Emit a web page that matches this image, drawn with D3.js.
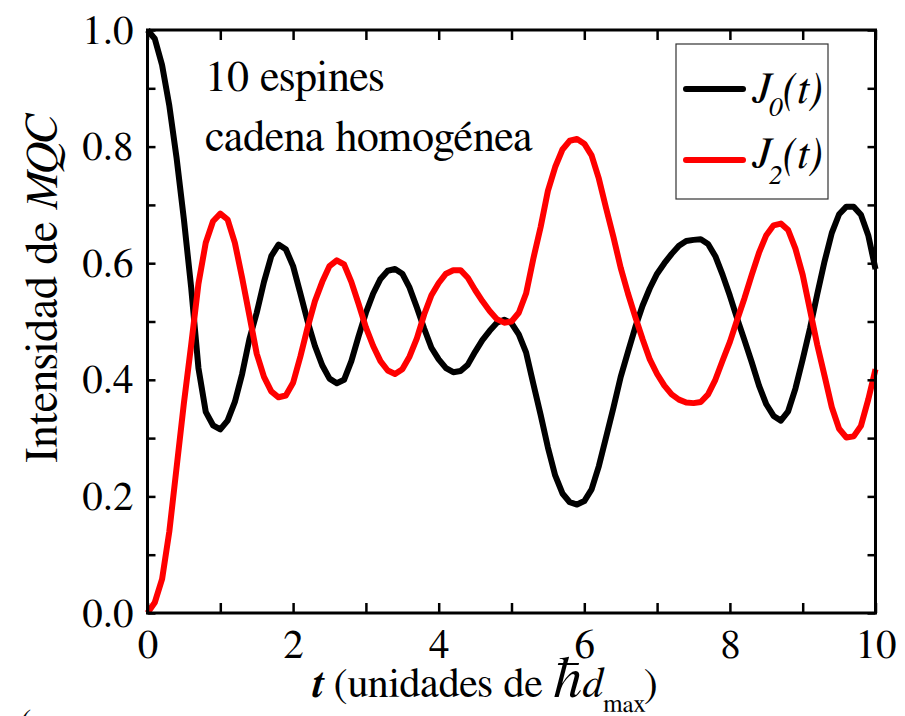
<!DOCTYPE html>
<html>
<head>
<meta charset="utf-8">
<script src="https://cdn.jsdelivr.net/npm/d3@7"></script>
<style>
  html, body { margin: 0; padding: 0; background: #fff; font-family: "Nimbus Roman", "FreeSerif", "Liberation Serif", "Tinos", serif; }
  svg { display: block; }
</style>
</head>
<body>
<svg id="chart" width="905" height="716"></svg>
<script>
// Time axis, sampled every 0.1
const time = d3.range(0, 101).map(i => +(i / 10).toFixed(1));

// MQC intensity, order 0
const j0Values = [
  1.000, 0.985, 0.940, 0.870, 0.780, 0.675, 0.558, 0.420, 0.345, 0.322,
  0.315, 0.330, 0.362, 0.410, 0.470, 0.515, 0.568, 0.612, 0.632, 0.624,
  0.595, 0.548, 0.500, 0.458, 0.425, 0.402, 0.394, 0.400, 0.432, 0.475,
  0.515, 0.548, 0.573, 0.587, 0.590, 0.582, 0.558, 0.524, 0.488, 0.455,
  0.435, 0.420, 0.413, 0.415, 0.426, 0.448, 0.468, 0.484, 0.498, 0.503,
  0.497, 0.478, 0.447, 0.393, 0.340, 0.284, 0.236, 0.205, 0.190, 0.186,
  0.192, 0.212, 0.252, 0.302, 0.352, 0.405, 0.448, 0.490, 0.527, 0.557,
  0.582, 0.600, 0.616, 0.630, 0.638, 0.640, 0.641, 0.633, 0.612, 0.580,
  0.544, 0.505, 0.468, 0.430, 0.390, 0.358, 0.338, 0.330, 0.346, 0.385,
  0.435, 0.488, 0.547, 0.603, 0.652, 0.684, 0.697, 0.697, 0.683, 0.648,
  0.590
];

// MQC intensity, order 2
const j2Values = [
  0.000, 0.018, 0.058, 0.140, 0.250, 0.360, 0.460, 0.565, 0.635, 0.672,
  0.685, 0.675, 0.635, 0.575, 0.510, 0.445, 0.405, 0.380, 0.370, 0.373,
  0.395, 0.440, 0.490, 0.535, 0.568, 0.595, 0.605, 0.598, 0.568, 0.530,
  0.490, 0.458, 0.432, 0.416, 0.410, 0.418, 0.440, 0.471, 0.512, 0.545,
  0.566, 0.582, 0.588, 0.588, 0.575, 0.554, 0.535, 0.518, 0.504, 0.498,
  0.500, 0.515, 0.548, 0.608, 0.662, 0.724, 0.765, 0.795, 0.810, 0.813,
  0.805, 0.785, 0.745, 0.694, 0.645, 0.592, 0.548, 0.508, 0.470, 0.435,
  0.410, 0.390, 0.375, 0.366, 0.361, 0.360, 0.362, 0.375, 0.400, 0.433,
  0.465, 0.503, 0.540, 0.580, 0.618, 0.648, 0.665, 0.668, 0.657, 0.625,
  0.580, 0.520, 0.460, 0.407, 0.353, 0.316, 0.301, 0.303, 0.321, 0.366,
  0.418
];

const xTickValues = [0, 2, 4, 6, 8, 10];
const xMinorTicks = [1, 3, 5, 7, 9];
const yTickValues = [0.0, 0.2, 0.4, 0.6, 0.8, 1.0];
const yMinorTicks = [0.1, 0.3, 0.5, 0.7, 0.9];

const seriesColors = ["#000000", "#ff0000"];
const FONT_CSS = '"Nimbus Roman", "FreeSerif", "Liberation Serif", "Tinos", serif';

const svg = d3.select("#chart");
const plot = { left: 147.5, right: 875.5, top: 30, bottom: 613 };

const x = d3.scaleLinear().domain([0, 10]).range([plot.left, plot.right]);
const y = d3.scaleLinear().domain([0, 1]).range([plot.bottom, plot.top]);

// Every label shares the same serif face
function label(parent, px) {
  return parent.append("text")
    .style("font-family", FONT_CSS)
    .style("font-size", px + "px")
    .attr("fill", "#000");
}

// Curves
const series = [j0Values, j2Values];
const line = d3.line()
  .x((d, i) => x(time[i]))
  .y(d => y(d))
  .curve(d3.curveLinear);

const curves = svg.append("g");
series.forEach((vals, k) => {
  curves.append("path")
    .datum(vals)
    .attr("d", line)
    .attr("fill", "none")
    .attr("stroke", seriesColors[k])
    .attr("stroke-width", 6)
    .attr("stroke-linejoin", "round");
});

// Axes with inward ticks on all four sides
const fmt = d3.format(".1f");
const bottomAxis = d3.axisBottom(x).tickValues(xTickValues).tickSize(-10).tickPadding(16).tickFormat(d3.format("d"));
const bottomMinor = d3.axisBottom(x).tickValues(xMinorTicks).tickSize(-10).tickFormat("");
const topAxis = d3.axisTop(x).tickValues(xTickValues.concat(xMinorTicks)).tickSize(-10).tickFormat("");
const leftAxis = d3.axisLeft(y).tickValues(yTickValues).tickSize(-8).tickPadding(14).tickFormat(fmt);
const leftMinor = d3.axisLeft(y).tickValues(yMinorTicks).tickSize(-8).tickFormat("");
const rightAxis = d3.axisRight(y).tickValues(yTickValues.concat(yMinorTicks)).tickSize(-8).tickFormat("");

function styleAxis(g) {
  g.attr("font-family", null).attr("font-size", null);
  g.select(".domain").remove();
  g.selectAll(".tick line").attr("stroke", "#000").attr("stroke-width", 2.5);
  g.selectAll(".tick text")
    .style("font-family", FONT_CSS)
    .style("font-size", "41px")
    .attr("fill", "#000");
}

svg.append("g").attr("transform", `translate(0,${plot.bottom})`).call(bottomAxis).call(styleAxis)
  .selectAll(".tick text").attr("dy", "0.71em");
svg.append("g").attr("transform", `translate(0,${plot.bottom})`).call(bottomMinor).call(styleAxis);
svg.append("g").attr("transform", `translate(0,${plot.top})`).call(topAxis).call(styleAxis);
svg.append("g").attr("transform", `translate(${plot.left},0)`).call(leftAxis).call(styleAxis);
svg.append("g").attr("transform", `translate(${plot.left},0)`).call(leftMinor).call(styleAxis);
svg.append("g").attr("transform", `translate(${plot.right},0)`).call(rightAxis).call(styleAxis);

// Frame
svg.append("rect")
  .attr("x", plot.left).attr("y", plot.top)
  .attr("width", plot.right - plot.left).attr("height", plot.bottom - plot.top)
  .attr("fill", "none").attr("stroke", "#000").attr("stroke-width", 3);

// Annotation
label(svg, 44).attr("x", 205).attr("y", 91).text("10 espines");
label(svg, 44).attr("x", 205).attr("y", 151).text("cadena homogénea");

// Legend
const legend = svg.append("g");
legend.append("rect")
  .attr("x", 676).attr("y", 44).attr("width", 152).attr("height", 155)
  .attr("fill", "#fff").attr("stroke", "#333").attr("stroke-width", 1.2);
const legendRows = [
  { y: 89, base: 103, sub: "0", subDy: 13 },
  { y: 160, base: 168, sub: "2", subDy: 16 }
];
legendRows.forEach((r, k) => {
  legend.append("line")
    .attr("x1", 686).attr("x2", 743).attr("y1", r.y).attr("y2", r.y)
    .attr("stroke", seriesColors[k]).attr("stroke-width", 6).attr("stroke-linecap", "round");
  const t = label(legend, 44).attr("x", 752).attr("y", r.base).style("font-style", "italic");
  t.append("tspan").text("J");
  t.append("tspan").attr("dy", r.subDy).attr("dx", -2).style("font-size", "28px").text(r.sub);
  t.append("tspan").attr("dy", -r.subDy).text("(t)");
});

// Y-axis title
const yTitle = label(svg, 46)
  .attr("transform", `translate(57,${(100 + 478) / 2}) rotate(-90)`)
  .attr("text-anchor", "middle");
yTitle.append("tspan").text("Intensidad de ");
yTitle.append("tspan").style("font-style", "italic").text("MQC");

// X-axis title
const xTitle = label(svg, 42).attr("x", 311).attr("y", 697);
xTitle.append("tspan").style("font-style", "italic").style("font-weight", "bold").text("t");
xTitle.append("tspan").text(" (unidades de ");
xTitle.append("tspan").style("font-style", "italic").style("font-size", "58px").text("ħ");
xTitle.append("tspan").style("font-style", "italic").text("d");
xTitle.append("tspan").attr("dy", 15).style("font-size", "25px").text("max");
xTitle.append("tspan").attr("dy", -15).attr("dx", -2).text(")");

// Stray bracket fragment at the lower-left edge
label(svg, 34).attr("x", 20).attr("y", 733).text("(");
</script>
</body>
</html>
